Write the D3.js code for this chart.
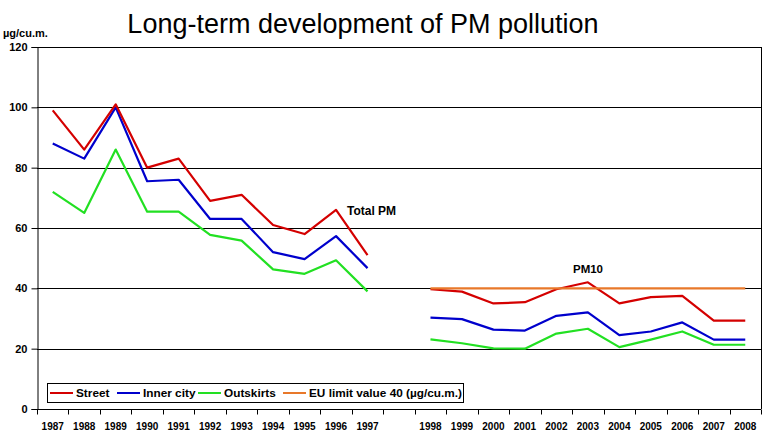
<!DOCTYPE html>
<html>
<head>
<meta charset="utf-8">
<script src="https://cdn.jsdelivr.net/npm/d3@7"></script>
<style>
  body { margin: 0; background: #fff; }
  text { font-family: "Liberation Sans", Arial, sans-serif; }
</style>
</head>
<body>
<script>
// screen width and height
var w = 764;
var h = 434;

// categories: 1987-1997, a gap, then 1998-2008
var years = ["1987","1988","1989","1990","1991","1992","1993","1994","1995","1996","1997",
             "",
             "1998","1999","2000","2001","2002","2003","2004","2005","2006","2007","2008"];
var yTicks = [0, 20, 40, 60, 80, 100, 120];

// Total PM (1987-1997)
var streetTotal   = [99, 86, 101, 80, 83, 69, 71, 61, 58, 66, 51];
var innerTotal    = [88, 83, 100, 75.5, 76, 63, 63, 52, 49.7, 57.3, 46.7];
var outskirtTotal = [72, 65, 86, 65.4, 65.4, 57.7, 55.8, 46.3, 44.8, 49.3, 39];

// PM10 (1998-2008)
var streetPM10   = [39.7, 38.9, 35, 35.4, 39.7, 42, 35, 37.1, 37.5, 29.3, 29.3];
var innerPM10    = [30.3, 29.8, 26.3, 26, 30.9, 32, 24.5, 25.7, 28.7, 23, 23];
var outskirtPM10 = [23.1, 21.8, 20.1, 20, 25, 26.6, 20.5, 23, 25.7, 21.3, 21.3];
var euLimit      = [40, 40, 40, 40, 40, 40, 40, 40, 40, 40, 40];

var colors = { street: "#d40000", inner: "#0000cc", out: "#22e022", eu: "#e8782a" };

var margin = { left: 37, right: 3, top: 47, bottom: 25 };

var svg = d3.select("body")
  .append("svg")
  .attr("width", w)
  .attr("height", h);

var x = d3.scaleBand()
  .domain(years.map(function(d, i) { return i; }))
  .range([margin.left, w - margin.right]);

var y = d3.scaleLinear()
  .domain([0, 120])
  .range([h - margin.bottom, margin.top]);

// title
svg.append("text")
  .attr("x", 363)
  .attr("y", 33)
  .attr("text-anchor", "middle")
  .style("font-size", "27px")
  .text("Long-term development of PM pollution");

// unit label
svg.append("text")
  .attr("x", 3)
  .attr("y", 37)
  .style("font-size", "11px")
  .style("font-weight", "bold")
  .text("µg/cu.m.");

// gridlines
svg.selectAll(".grid")
  .data(yTicks.filter(function(d) { return d > 0; }))
  .enter()
  .append("line")
  .attr("class", "grid")
  .attr("x1", margin.left)
  .attr("x2", w - margin.right)
  .attr("y1", function(d) { return Math.round(y(d)) + 0.5; })
  .attr("y2", function(d) { return Math.round(y(d)) + 0.5; })
  .attr("stroke", "#000")
  .attr("stroke-width", 1);

// right border
svg.append("line")
  .attr("x1", w - margin.right + 0.5)
  .attr("x2", w - margin.right + 0.5)
  .attr("y1", y(120))
  .attr("y2", y(0))
  .attr("stroke", "#000");

// y axis
var yAxis = d3.axisLeft(y).tickValues(yTicks).tickSize(6).tickPadding(4);
var gy = svg.append("g")
  .attr("transform", "translate(" + (margin.left + 0.5) + ",0)")
  .call(yAxis);
gy.select(".domain").attr("stroke", "#000");
gy.selectAll("text")
  .style("font-size", "11px")
  .style("font-weight", "bold")
  .style("font-family", "'Liberation Sans', Arial, sans-serif")
  .attr("fill", "#000");

// x axis: ticks at category boundaries, labels centered
var xAxisG = svg.append("g")
  .attr("transform", "translate(0," + (Math.round(y(0)) + 0.5) + ")");
xAxisG.append("line")
  .attr("x1", margin.left)
  .attr("x2", w - margin.right)
  .attr("stroke", "#000");
var bounds = d3.range(years.length + 1).map(function(i) {
  return margin.left + i * x.step();
});
xAxisG.selectAll(".xtick")
  .data(bounds)
  .enter()
  .append("line")
  .attr("class", "xtick")
  .attr("x1", function(d) { return Math.round(d) + 0.5; })
  .attr("x2", function(d) { return Math.round(d) + 0.5; })
  .attr("y1", 0)
  .attr("y2", 5)
  .attr("stroke", "#000");
xAxisG.selectAll(".xlabel")
  .data(years)
  .enter()
  .append("text")
  .attr("class", "xlabel")
  .attr("x", function(d, i) { return x(i) + x.bandwidth() / 2; })
  .attr("y", 20)
  .attr("text-anchor", "middle")
  .style("font-size", "10px")
  .style("font-weight", "bold")
  .text(function(d) { return d; });

var line = d3.line()
  .x(function(d) { return x(d.i) + x.bandwidth() / 2; })
  .y(function(d) { return y(d.v); });

var drawSeries = function(values, offset, color) {
  var pts = values.map(function(v, k) { return { i: k + offset, v: v }; });
  svg.append("path")
    .datum(pts)
    .attr("d", line)
    .attr("fill", "none")
    .attr("stroke", color)
    .attr("stroke-width", 2.2)
    .attr("stroke-linejoin", "round");
};

drawSeries(outskirtTotal, 0, colors.out);
drawSeries(innerTotal, 0, colors.inner);
drawSeries(streetTotal, 0, colors.street);
drawSeries(outskirtPM10, 12, colors.out);
drawSeries(innerPM10, 12, colors.inner);
drawSeries(streetPM10, 12, colors.street);
drawSeries(euLimit, 12, colors.eu);

// annotations
svg.append("text")
  .attr("x", 347)
  .attr("y", 215)
  .style("font-size", "12px")
  .style("font-weight", "bold")
  .text("Total PM");
svg.append("text")
  .attr("x", 588)
  .attr("y", 273)
  .attr("text-anchor", "middle")
  .style("font-size", "11.5px")
  .style("font-weight", "bold")
  .text("PM10");

// legend
var legendItems = [
  { name: "Street", color: colors.street, x: 50 },
  { name: "Inner city", color: colors.inner, x: 117 },
  { name: "Outskirts", color: colors.out, x: 198 },
  { name: "EU limit value 40 (µg/cu.m.)", color: colors.eu, x: 283 }
];
svg.append("rect")
  .attr("x", 47.5)
  .attr("y", 383.5)
  .attr("width", 416)
  .attr("height", 19)
  .attr("fill", "#fff")
  .attr("stroke", "#000");
var lg = svg.selectAll(".legend")
  .data(legendItems)
  .enter()
  .append("g")
  .attr("class", "legend");
lg.append("line")
  .attr("x1", function(d) { return d.x; })
  .attr("x2", function(d) { return d.x + 23; })
  .attr("y1", 393)
  .attr("y2", 393)
  .attr("stroke", function(d) { return d.color; })
  .attr("stroke-width", 2);
lg.append("text")
  .attr("x", function(d) { return d.x + 26; })
  .attr("y", 397)
  .style("font-size", "11.8px")
  .style("font-weight", "bold")
  .text(function(d) { return d.name; });
</script>
</body>
</html>
